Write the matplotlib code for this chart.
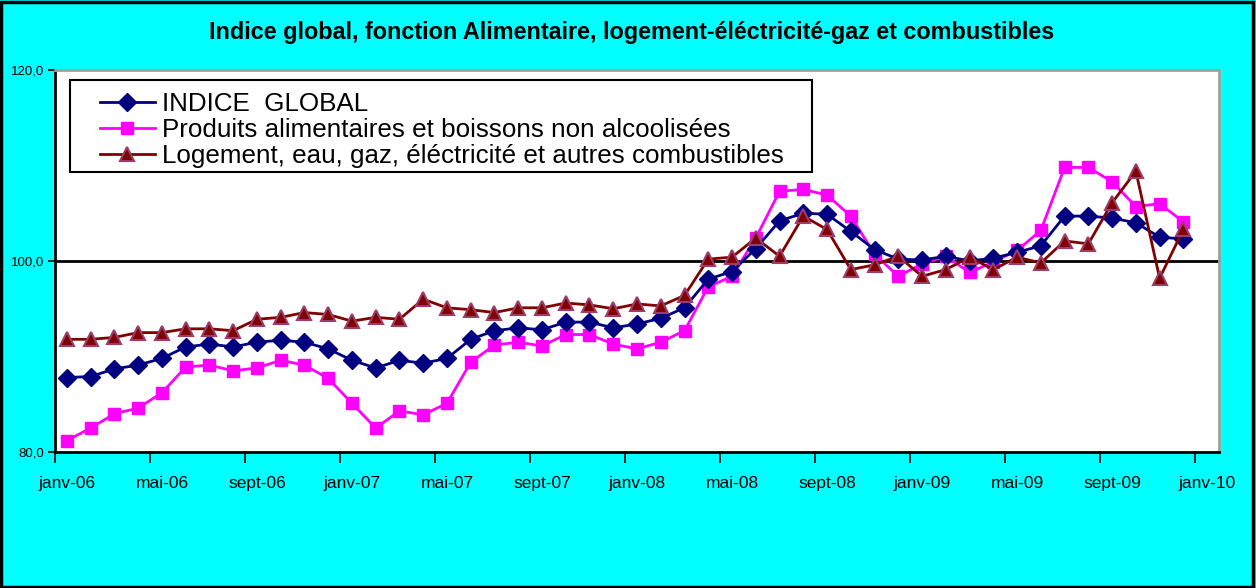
import matplotlib
matplotlib.use("Agg")
import matplotlib.pyplot as plt
from matplotlib.patches import Rectangle
from matplotlib import font_manager

avail = {f.name for f in font_manager.fontManager.ttflist}
narrow = [f for f in ['Liberation Sans Narrow', 'Liberation Sans', 'DejaVu Sans'] if f in avail]
regular = [f for f in ['Liberation Sans', 'DejaVu Sans'] if f in avail]
plt.rcParams['font.family'] = narrow

title = "Indice global, fonction Alimentaire, logement-éléctricité-gaz et combustibles"
series_names = ["INDICE  GLOBAL",
                "Produits alimentaires et boissons non alcoolisées",
                "Logement, eau, gaz, éléctricité et autres combustibles"]
months = ['janv', 'févr', 'mars', 'avr', 'mai', 'juin', 'juil', 'août', 'sept', 'oct', 'nov', 'déc']
years = ['06', '07', '08', '09']
categories = [f"{m}-{y}" for y in years for m in months]
tick_labels = ['janv-06', 'mai-06', 'sept-06', 'janv-07', 'mai-07', 'sept-07',
               'janv-08', 'mai-08', 'sept-08', 'janv-09', 'mai-09', 'sept-09', 'janv-10']

indice_global = [87.8, 87.9, 88.7, 89.1, 89.8, 91.0, 91.3, 91.0, 91.5, 91.7, 91.5, 90.8,
                 89.6, 88.8, 89.6, 89.3, 89.8, 91.8, 92.7, 93.0, 92.8, 93.6, 93.6, 93.0,
                 93.4, 94.0, 95.1, 98.1, 98.9, 101.3, 104.2, 105.0, 104.9, 103.1, 101.2, 100.2,
                 100.1, 100.5, 100.0, 100.3, 100.9, 101.6, 104.7, 104.7, 104.5, 104.0, 102.5, 102.3]
alimentaire = [81.2, 82.5, 84.0, 84.6, 86.2, 88.9, 89.1, 88.5, 88.8, 89.6, 89.1, 87.7,
               85.1, 82.5, 84.3, 83.9, 85.1, 89.4, 91.2, 91.5, 91.1, 92.3, 92.3, 91.3,
               90.8, 91.5, 92.7, 97.3, 98.4, 102.4, 107.3, 107.5, 106.9, 104.7, 100.7, 98.4,
               99.7, 100.5, 98.8, 99.9, 101.1, 103.2, 109.8, 109.8, 108.3, 105.7, 106.0, 104.1]
logement = [91.8, 91.8, 92.0, 92.5, 92.5, 92.9, 92.9, 92.7, 93.9, 94.1, 94.6, 94.4,
            93.7, 94.1, 93.9, 96.0, 95.1, 94.9, 94.6, 95.1, 95.1, 95.6, 95.4, 95.0,
            95.5, 95.3, 96.4, 100.2, 100.4, 102.4, 100.5, 104.7, 103.3, 99.1, 99.6, 100.5,
            98.4, 99.1, 100.4, 99.1, 100.4, 99.8, 102.1, 101.8, 106.1, 109.4, 98.2, 103.3]

W, H = 1256, 588
fig = plt.figure(figsize=(W / 100, H / 100), dpi=100)
fig.patch.set_facecolor('#00FFFF')
fig.patches.append(Rectangle((0.001, 0.002), 0.997, 0.995, transform=fig.transFigure,
                             fill=False, edgecolor='black', linewidth=2.5))

L, R, T, B = 55, 1219, 70, 452
ax = fig.add_axes([L / W, 1 - B / H, (R - L) / W, (B - T) / H])
ax.set_facecolor('white')

x = list(range(len(categories)))
ax.axhline(100, color='black', lw=2, zorder=1)
ax.plot(x, indice_global, color='#000080', lw=2, marker='D', ms=9,
        mfc='#000080', mec='#000080', label=series_names[0], zorder=3)
ax.plot(x, alimentaire, color='#FF00FF', lw=2, marker='s', ms=8,
        mfc='#FF00FF', mec='#FF00FF', label=series_names[1], zorder=2)
ax.plot(x, logement, color='#800000', lw=2, marker='^', ms=10,
        mfc='#800000', mec='#9C3C6A', mew=1.5, label=series_names[2], zorder=4)

ax.set_xlim(-0.5, 48.5)
ax.set_ylim(80, 120)
ax.set_yticks([80, 100, 120])
ax.set_yticklabels(['80,0', '100,0', '120,0'], fontsize=9.5)
ax.tick_params(axis='y', direction='out', length=5, width=1.2, pad=3)

ax.set_xticks([-0.5 + 4 * k for k in range(13)])
ax.set_xticklabels([])
ax.tick_params(axis='x', which='major', direction='out', length=8, width=1.2)
ax.set_xticks([4 * k for k in range(13)], minor=True)
ax.set_xticklabels(tick_labels, minor=True, fontsize=12.5)
ax.tick_params(axis='x', which='minor', length=0, pad=17)

for s in ['left', 'bottom']:
    ax.spines[s].set_color('black')
    ax.spines[s].set_linewidth(2)
for s in ['top', 'right']:
    ax.spines[s].set_color('#A0A0A0')
    ax.spines[s].set_linewidth(2)

fig.text(632 / W, 1 - 32 / H, title, ha='center', va='center',
         fontsize=16.8, fontweight='bold')

# legend box
def ax_coords(px, py):
    return ((px - L) / (R - L), 1 - (py - T) / (B - T))

x0, y1 = ax_coords(70, 80)
x1, y0 = ax_coords(812, 172)
ax.add_patch(Rectangle((x0, y0), x1 - x0, y1 - y0, transform=ax.transAxes,
                       facecolor='white', edgecolor='black', lw=1.5, zorder=5))
lx, ly = ax_coords(100, 92)
leg = ax.legend(loc='upper left', bbox_to_anchor=(lx, ly), frameon=False,
                borderpad=0, borderaxespad=0, handlelength=2.1, handletextpad=0.3,
                labelspacing=0.08, prop={'family': regular, 'size': 18.7})
leg.set_zorder(6)

fig.savefig('out.png', dpi=100, facecolor=fig.get_facecolor())
